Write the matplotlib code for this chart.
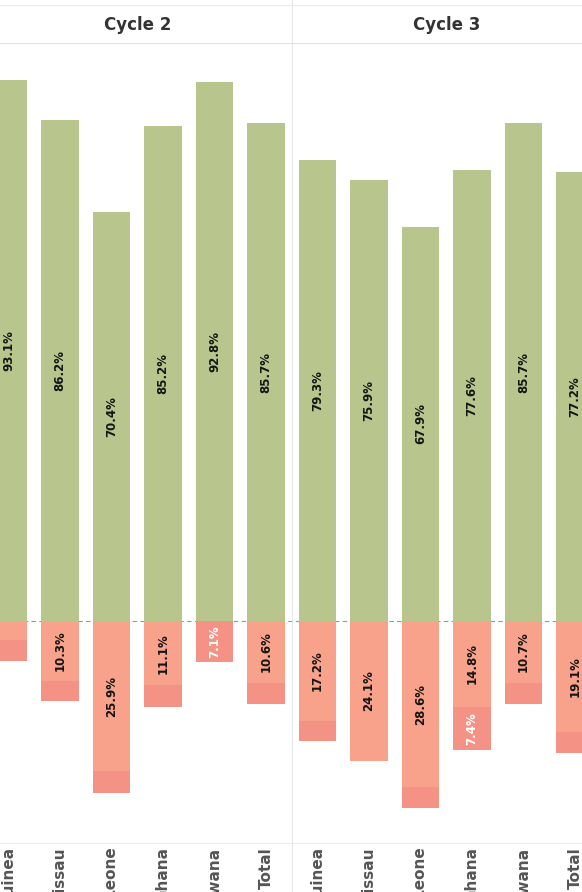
import numpy as np
import matplotlib.pyplot as plt
from matplotlib.lines import Line2D

cycles = ["Cycle 2", "Cycle 3"]
groups = ["Guinea", "Guinea-Bissau", "Sierra Leone", "Ghana", "Botswana", "Total"]

# percent per bar, cycle 2 then cycle 3
agree = [93.1, 86.2, 70.4, 85.2, 92.8, 85.7, 79.3, 75.9, 67.9, 77.6, 85.7, 77.2]
disagree = [3.3, 10.3, 25.9, 11.1, 0.0, 10.6, 17.2, 24.1, 28.6, 14.8, 10.7, 19.1]
strong = [3.6, 3.5, 3.7, 3.7, 7.1, 3.7, 3.5, 0.0, 3.5, 7.4, 3.6, 3.7]

green = "#b8c68e"
salmon = "#f9a28b"
pink = "#f49286"

fig = plt.figure(figsize=(5.82, 8.92), dpi=100)
W, H = 582, 892
ax_top, ax_bot = 45, 843
ax = fig.add_axes([0, 1 - ax_bot / H, 1, (ax_bot - ax_top) / H])

x = np.arange(len(agree))
agree = np.array(agree)
disagree = np.array(disagree)
strong = np.array(strong)
w = 0.73

ax.bar(x, agree, w, color=green, edgecolor="none")
ax.bar(x, -disagree, w, color=salmon, edgecolor="none")
ax.bar(x, -strong, w, bottom=-disagree, color=pink, edgecolor="none")

for i in x:
    ax.text(i, agree[i] / 2, f"{agree[i]:.1f}%", rotation=90, ha="center", va="center",
            fontsize=8.5, fontweight="bold", color="#151515")
    if disagree[i] >= 5:
        ax.text(i, -disagree[i] / 2, f"{disagree[i]:.1f}%", rotation=90, ha="center",
                va="center", fontsize=8.5, fontweight="bold", color="#151515")
    if strong[i] >= 5:
        ax.text(i, -disagree[i] - strong[i] / 2, f"{strong[i]:.1f}%", rotation=90,
                ha="center", va="center", fontsize=8.5, fontweight="bold", color="white")

ax.axhline(0, color="#8c9aa6", lw=0.8, ls=(0, (4, 3)), zorder=0)

# 5.81 px per percent, zero line at 621 px
ppp = 5.81
ax.set_ylim(-(ax_bot - 621) / ppp, (621 - ax_top) / ppp)
ax.set_xlim(-8.5 / 51.5, (W - 8.5) / 51.5)

ax.set_xticks(x)
ax.set_xticklabels(groups * 2, rotation=90, va="top", ha="center",
                   fontsize=11, fontweight="bold", color="#555555")
ax.tick_params(axis="x", length=0, pad=3)
ax.set_yticks([])
for s in ["left", "right", "top"]:
    ax.spines[s].set_visible(False)
ax.spines["bottom"].set_color("#ececec")

# cycle headers and divider
for k, name in enumerate(cycles):
    xc = 8.5 + 51.5 * (2.5 + 6 * k)
    fig.text(xc / W, 1 - 25 / H, name, ha="center", va="center",
             fontsize=12, fontweight="bold", color="#333333")
fig.add_artist(Line2D([0, 1], [1 - 43 / H, 1 - 43 / H], color="#e2e2e2", lw=0.8))
fig.add_artist(Line2D([0, 1], [1 - 5 / H, 1 - 5 / H], color="#ececec", lw=0.8))
xd = (8.5 + 51.5 * 5.5) / W
fig.add_artist(Line2D([xd, xd], [0, 1], color="#e6e6e6", lw=0.8))

fig.savefig("out.png", dpi=100)
